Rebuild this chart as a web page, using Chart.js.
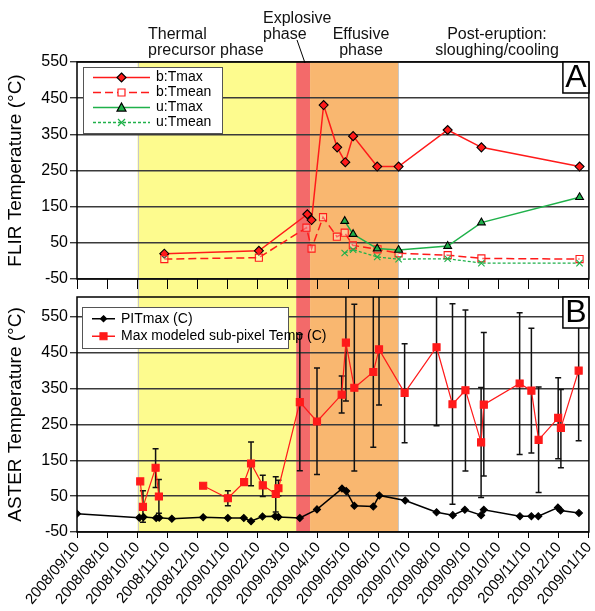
<!DOCTYPE html>
<html>
<head>
<meta charset="utf-8">
<script src="https://cdn.jsdelivr.net/npm/chart.js@4/dist/chart.umd.min.js"></script>
<style>
  body { margin: 0; background: #fff; }
  canvas { position: absolute; left: 0; }
  #chartA { top: 0; }
  #chartB { top: 290px; }
</style>
</head>
<body>
<canvas id="chartA" width="595" height="290"></canvas>
<canvas id="chartB" width="595" height="321"></canvas>
<script>
// x values are months counted from the first tick
const DATE_LABELS = ['2008/09/10', '2008/08/10', '2008/10/10', '2008/11/10', '2008/12/10', '2009/01/10',
  '2009/02/10', '2009/03/10', '2009/04/10', '2009/05/10', '2009/06/10', '2009/07/10', '2009/08/10',
  '2009/09/10', '2009/10/10', '2009/11/10', '2009/12/10', '2009/01/10'];

const PHASE_NAMES = [['Thermal', 'precursor phase'], ['Explosive', 'phase'], ['Effusive', 'phase'], ['Post-eruption:', 'sloughing/cooling']];
const PHASE_START = [2.01, 7.28, 7.74];
const PHASE_END = [7.28, 7.74, 10.67];
const PHASE_COLORS = ['#fdfb8e', '#f36a6a', '#f9b770'];

// panel A - FLIR
const B_TMAX_X = [2.90, 6.04, 7.65, 7.79, 8.19, 8.64, 8.91, 9.17, 9.97, 10.68, 12.31, 13.43, 16.69];
const B_TMAX_Y = [20, 28, 129, 113, 431, 314, 273, 345, 261, 261, 362, 314, 261];
const B_TMEAN_X = [2.90, 6.04, 7.62, 7.79, 8.17, 8.63, 8.89, 9.16, 9.98, 10.68, 12.31, 13.43, 16.69];
const B_TMEAN_Y = [5, 9, 92, 34, 121, 67, 78, 43, 32, 21, 16, 7, 5];
const U_X = [8.89, 9.17, 9.97, 10.68, 12.31, 13.43, 16.69];
const U_TMAX_Y = [110, 74, 34, 30, 41, 106, 176];
const U_TMEAN_Y = [22, 31, 11, 5, 6, -6, -6];

// panel B - ASTER
const PIT_X = [0, 2.07, 2.21, 2.63, 2.73, 3.15, 4.19, 5.01, 5.54, 5.78, 6.16, 6.58, 6.69, 7.40, 7.97, 8.80,
  8.94, 9.21, 9.84, 10.04, 10.90, 11.94, 12.48, 12.88, 13.42, 13.51, 14.71, 15.09, 15.32, 15.97, 16.06, 16.67];
const PIT_Y = [1, -10, -8, -11, -10, -13, -9, -11, -11, -20, -7, -6, -8, -11, 13, 71, 64, 23, 21, 52, 38, 5,
  -3, 12, -3, 12, -6, -6, -6, 18, 10, 3];
const MOD_X = [2.10, 2.19, 2.61, 2.72, 3.5, 4.19, 5.01, 5.55, 5.78, 6.17, 6.60, 6.69, 7.40, 7.97, 8.79, 8.93,
  9.21, 9.84, 10.03, 10.88, 11.94, 12.47, 12.90, 13.42, 13.51, 14.70, 15.09, 15.33, 15.98, 16.07, 16.66];
const MOD_Y = [91, 20, 129, 49, null, 79, 44, 89, 141, 80, 56, 72, 312, 258, 333, 478, 352, 396, 459, 338,
  465, 306, 345, 200, 305, 364, 344, 207, 268, 240, 400];
const MOD_HI = [null, 65, 182, 96, null, null, 65, null, 201, 108, 104, 94, 501, 407, 385, 640, 585, 640, 640,
  475, 640, 586, 569, 353, 506, 561, 518, 354, 380, 347, 640];
const MOD_LO = [null, -23, 74, 2, null, null, 23, null, 79, 49, 6, 51, 121, 110, 282, 315, 120, 186, 304, 199,
  246, 27, 120, 46, 106, 166, 170, 60, 154, 129, 204];

const FONT = "'Liberation Sans', Arial, Helvetica, sans-serif";
const RED = '#ff1a1a';
const GREEN = '#1fb14a';

const pts = (xs, ys) => xs.map((x, i) => ({x: x, y: ys[i]}));

function drawMarker(ctx, style, x, y, r, fill, stroke) {
    ctx.save();
    ctx.beginPath();
    if (style === 'diamond') {
        ctx.moveTo(x, y - r); ctx.lineTo(x + r, y); ctx.lineTo(x, y + r); ctx.lineTo(x - r, y); ctx.closePath();
    } else if (style === 'square') {
        ctx.rect(x - r, y - r, 2 * r, 2 * r);
    } else if (style === 'triangle') {
        ctx.moveTo(x, y - r); ctx.lineTo(x + r, y + r * 0.8); ctx.lineTo(x - r, y + r * 0.8); ctx.closePath();
    } else if (style === 'cross') {
        ctx.moveTo(x - r, y - r); ctx.lineTo(x + r, y + r); ctx.moveTo(x + r, y - r); ctx.lineTo(x - r, y + r);
    }
    if (fill && style !== 'cross') { ctx.fillStyle = fill; ctx.fill(); }
    if (stroke) { ctx.strokeStyle = stroke; ctx.lineWidth = 1.2; ctx.stroke(); }
    ctx.restore();
}

function phasePlugin(extendUp, extendDown) {
    return {
        id: 'phases',
        beforeDraw(chart) {
            const {ctx, chartArea, scales} = chart;
            const top = extendUp ? 0 : chartArea.top;
            const bottom = extendDown ? chart.height : chartArea.bottom;
            ctx.save();
            PHASE_START.forEach((s, i) => {
                const x0 = scales.x.getPixelForValue(s);
                const x1 = scales.x.getPixelForValue(PHASE_END[i]);
                ctx.fillStyle = PHASE_COLORS[i];
                ctx.fillRect(x0, top, x1 - x0, bottom - top);
            });
            ctx.strokeStyle = '#c8c8c8';
            ctx.lineWidth = 1;
            [PHASE_START[0], PHASE_END[2]].forEach(v => {
                const x = Math.round(scales.x.getPixelForValue(v)) + 0.5;
                ctx.beginPath(); ctx.moveTo(x, top); ctx.lineTo(x, bottom); ctx.stroke();
            });
            ctx.restore();
        }
    };
}

function frameBox(ctx, area, letter) {
    ctx.save();
    ctx.strokeStyle = '#000';
    ctx.lineWidth = 1.5;
    ctx.strokeRect(area.left, area.top, area.right - area.left, area.bottom - area.top);
    const w = 26, h = 31;
    const bx = area.right - w, by = area.top;
    ctx.fillStyle = '#fff';
    ctx.fillRect(bx, by, w, h);
    ctx.strokeRect(bx, by, w, h);
    ctx.fillStyle = '#000';
    ctx.font = '32px ' + FONT;
    ctx.textAlign = 'center';
    ctx.textBaseline = 'middle';
    ctx.fillText(letter, bx + w / 2, by + h / 2 + 1);
    ctx.restore();
}

function drawLegend(ctx, x, y, w, rowH, lineW, items) {
    ctx.save();
    const h = rowH * items.length + 6;
    ctx.fillStyle = '#fff';
    ctx.fillRect(x, y, w, h);
    ctx.strokeStyle = '#555';
    ctx.lineWidth = 1;
    ctx.strokeRect(x + 0.5, y + 0.5, w, h);
    ctx.font = '14px ' + FONT;
    ctx.textBaseline = 'middle';
    items.forEach((it, i) => {
        const cy = y + 3 + rowH * (i + 0.5);
        ctx.strokeStyle = it.color;
        ctx.lineWidth = it.width;
        ctx.setLineDash(it.dash || []);
        ctx.beginPath(); ctx.moveTo(x + 10, cy); ctx.lineTo(x + 10 + lineW, cy); ctx.stroke();
        ctx.setLineDash([]);
        drawMarker(ctx, it.marker, x + 10 + lineW / 2, cy, it.r, it.fill, it.stroke);
        ctx.fillStyle = '#000';
        ctx.fillText(it.label, x + 16 + lineW, cy);
    });
    ctx.restore();
}

const xScale = (showLabels) => ({
    type: 'linear',
    min: 0,
    max: 17,
    afterBuildTicks: s => { s.ticks = DATE_LABELS.map((_, i) => ({value: i})); },
    afterFit: s => { s.height = showLabels ? 79 : 11; s.paddingLeft = 0; s.paddingRight = 0; },
    grid: {drawOnChartArea: false, color: '#000', lineWidth: 1, tickLength: showLabels ? 6 : 10},
    border: {display: false},
    ticks: {
        display: showLabels,
        minRotation: 50,
        maxRotation: 50,
        padding: 1,
        color: '#000',
        font: {family: FONT, size: 15},
        callback: v => DATE_LABELS[v]
    }
});

const yScale = (title, max) => ({
    min: -50,
    max: max,
    afterBuildTicks: s => { s.ticks = [-50, 50, 150, 250, 350, 450, 550].map(v => ({value: v})); },
    afterFit: s => { s.width = 77; s.paddingTop = 0; s.paddingBottom = 0; },
    grid: {color: '#3a3a3a', lineWidth: 1.4, tickLength: 7},
    border: {display: false},
    ticks: {color: '#000', padding: 2, font: {family: FONT, size: 16}},
    title: {display: true, text: title, color: '#000', font: {family: FONT, size: 19}, padding: {top: 4, bottom: 0}}
});

const ptLine = (label, xs, ys, color, dash, width, style, radius, fill, border) => ({
    label: label,
    data: pts(xs, ys),
    borderColor: color,
    borderWidth: width,
    borderDash: dash,
    pointStyle: style,
    pointRadius: radius,
    pointBackgroundColor: fill,
    pointBorderColor: border,
    pointBorderWidth: 1.1,
    tension: 0
});

new Chart(document.getElementById('chartA'), {
    type: 'line',
    data: {
        datasets: [
            ptLine('u:Tmean', U_X, U_TMEAN_Y, GREEN, [3, 2], 1.3, 'crossRot', 4.5, GREEN, GREEN),
            ptLine('u:Tmax', U_X, U_TMAX_Y, GREEN, [], 1.5, 'triangle', 4.5, GREEN, '#000'),
            ptLine('b:Tmean', B_TMEAN_X, B_TMEAN_Y, RED, [8, 4], 1.5, 'rect', 5, 'rgba(255,255,255,0.3)', RED),
            ptLine('b:Tmax', B_TMAX_X, B_TMAX_Y, RED, [], 1.5, 'rectRot', 4.5, RED, '#000')
        ]
    },
    options: {
        responsive: false,
        animation: false,
        layout: {padding: {top: 62, right: 2, left: 0, bottom: 0}},
        scales: {x: xScale(false), y: yScale('FLIR Temperature (°C)', 550)},
        plugins: {legend: {display: false}, tooltip: {enabled: false}}
    },
    plugins: [phasePlugin(false, true), {
        id: 'decorA',
        afterDraw(chart) {
            const {ctx, chartArea} = chart;
            frameBox(ctx, chartArea, 'A');
            drawLegend(ctx, 83, 67, 139, 15, 57, [
                {label: 'b:Tmax', color: RED, width: 1.5, marker: 'diamond', r: 4.5, fill: RED, stroke: '#000'},
                {label: 'b:Tmean', color: RED, width: 1.5, dash: [8, 4], marker: 'square', r: 3.5, fill: '#fff', stroke: RED},
                {label: 'u:Tmax', color: GREEN, width: 1.5, marker: 'triangle', r: 4.5, fill: GREEN, stroke: '#000'},
                {label: 'u:Tmean', color: GREEN, width: 1.3, dash: [3, 2], marker: 'cross', r: 3.5, stroke: GREEN}
            ]);
            ctx.save();
            ctx.fillStyle = '#111';
            ctx.font = '16px ' + FONT;
            ctx.textBaseline = 'middle';
            const spots = [[148, 'left'], [263, 'left'], [361, 'center'], [497, 'center']];
            const rows = [[35, 51], [19, 35], [35, 51], [35, 51]];
            PHASE_NAMES.forEach((lines, i) => {
                ctx.textAlign = spots[i][1];
                lines.forEach((t, j) => ctx.fillText(t, spots[i][0], rows[i][j]));
            });
            ctx.strokeStyle = '#000';
            ctx.lineWidth = 1;
            ctx.beginPath(); ctx.moveTo(297, 40); ctx.lineTo(305, 63); ctx.stroke();
            ctx.restore();
        }
    }]
});

new Chart(document.getElementById('chartB'), {
    type: 'line',
    data: {
        datasets: [
            ptLine('PITmax (C)', PIT_X, PIT_Y, '#000', [], 1.5, 'rectRot', 3.5, '#000', '#000'),
            ptLine('Max modeled sub-pixel Temp (C)', MOD_X, MOD_Y, RED, [], 1.2, 'rect', 5, RED, RED)
        ]
    },
    options: {
        responsive: false,
        animation: false,
        spanGaps: false,
        layout: {padding: {top: 7, right: 2, left: 0, bottom: 0}},
        scales: {x: xScale(true), y: yScale('ASTER Temperature (°C)', 605)},
        plugins: {legend: {display: false}, tooltip: {enabled: false}}
    },
    plugins: [phasePlugin(true, false), {
        id: 'errorBars',
        beforeDatasetsDraw(chart) {
            const {ctx, chartArea, scales} = chart;
            ctx.save();
            ctx.beginPath();
            ctx.rect(chartArea.left, chartArea.top, chartArea.right - chartArea.left, chartArea.bottom - chartArea.top);
            ctx.clip();
            ctx.strokeStyle = '#111';
            ctx.lineWidth = 1.5;
            MOD_X.forEach((xv, i) => {
                if (MOD_HI[i] === null) return;
                const x = scales.x.getPixelForValue(xv);
                const y0 = scales.y.getPixelForValue(MOD_LO[i]);
                const y1 = scales.y.getPixelForValue(MOD_HI[i]);
                ctx.beginPath();
                ctx.moveTo(x, y0); ctx.lineTo(x, y1);
                ctx.moveTo(x - 3, y0); ctx.lineTo(x + 3, y0);
                ctx.moveTo(x - 3, y1); ctx.lineTo(x + 3, y1);
                ctx.stroke();
            });
            ctx.restore();
        },
        afterDraw(chart) {
            const {ctx, chartArea} = chart;
            frameBox(ctx, chartArea, 'B');
            drawLegend(ctx, 82, 17, 206, 17.5, 23, [
                {label: 'PITmax (C)', color: '#000', width: 1.5, marker: 'diamond', r: 3, fill: '#000', stroke: '#000'},
                {label: 'Max modeled sub-pixel Temp (C)', color: RED, width: 1.5, marker: 'square', r: 3.5, fill: RED, stroke: RED}
            ]);
        }
    }]
});
</script>
</body>
</html>
